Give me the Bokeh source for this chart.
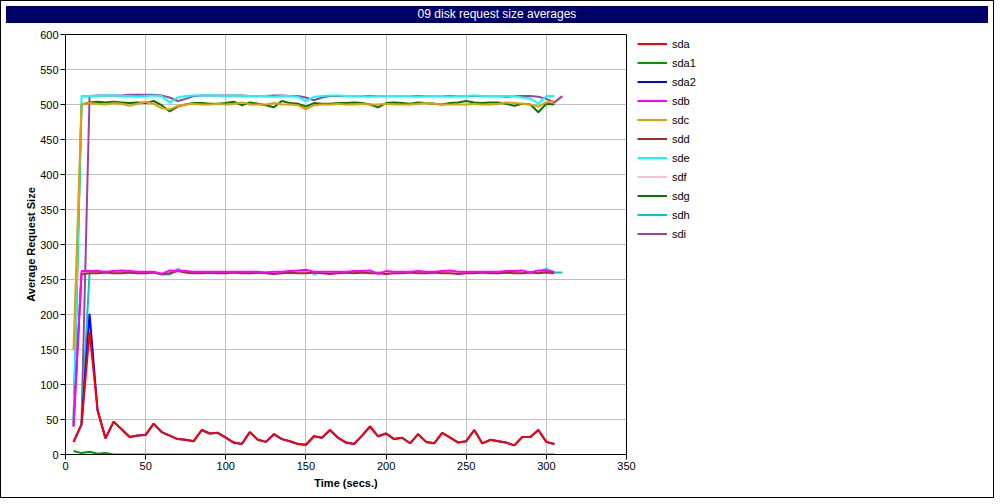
from bokeh.plotting import figure
from bokeh.models import Legend, LegendItem, Div, Range1d, FixedTicker
from bokeh.layouts import column, row
from bokeh.embed import file_html
from bokeh.resources import INLINE

title_text = "09 disk request size averages"
x_label = "Time (secs.)"
y_label = "Average Request Size"
x_ticks = [0, 50, 100, 150, 200, 250, 300, 350]
y_ticks = [0, 50, 100, 150, 200, 250, 300, 350, 400, 450, 500, 550, 600]

# sample times (seconds)
t_a = [5, 10, 15, 20, 25, 30, 35, 40, 45, 50, 55, 60, 65, 70, 75, 80, 85, 90, 95, 100,
       105, 110, 115, 120, 125, 130, 135, 140, 145, 150, 155, 160, 165, 170, 175, 180,
       185, 190, 195, 200, 205, 210, 215, 220, 225, 230, 235, 240, 245, 250, 255, 260,
       265, 270, 275, 280, 285, 290, 295, 300, 305]
t_b = [10, 15, 20, 25, 30, 35, 40, 45, 50, 55, 60, 65, 70, 75, 80, 85, 90, 95, 100,
       105, 110, 115, 120, 125, 130, 135, 140, 145, 150, 155, 160, 165, 170, 175, 180,
       185, 190, 195, 200, 205, 210, 215, 220, 225, 230, 235, 240, 245, 250, 255, 260,
       265, 270, 275, 280, 285, 290, 295, 300, 305, 310]

sda = [18, 43, 175, 63, 23, 47, 36, 25, 27, 28, 44, 32, 27, 22, 21, 19, 35, 30, 31, 24,
       17, 15, 32, 21, 18, 29, 22, 19, 15, 14, 26, 24, 35, 24, 17, 15, 27, 40, 26, 30,
       22, 24, 16, 29, 18, 16, 31, 24, 17, 19, 35, 16, 21, 19, 17, 13, 25, 25, 35, 18, 15]
sda1 = [5, 2, 4, 1, 2, 0, 0, 0, 0, 0, 0, 0, 0, 0, 0, 0, 0, 0, 0, 0,
        0, 0, 0, 0, 0, 0, 0, 0, 0, 0, 0, 0, 0, 0, 0, 0, 0, 0, 0, 0,
        0, 0, 0, 0, 0, 0, 0, 0, 0, 0, 0, 0, 0, 0, 0, 0, 0, 0, 0, 0, 0]
sda2 = [18, 43, 201, 63, 23, 47, 36, 25, 27, 28, 44, 32, 27, 22, 21, 19, 35, 30, 31, 24,
        17, 15, 32, 21, 18, 29, 22, 19, 15, 14, 26, 24, 35, 24, 17, 15, 27, 40, 26, 30,
        22, 24, 16, 29, 18, 16, 31, 24, 17, 19, 35, 16, 21, 19, 17, 13, 25, 25, 35, 18, 15]
sdb = [40, 262, 262, 262, 261, 262, 263, 262, 261, 261, 261, 258, 263, 262, 262, 261,
       261, 261, 261, 261, 261, 261, 261, 261, 260, 261, 261, 262, 263, 264, 261, 261,
       261, 261, 261, 262, 262, 263, 258, 262, 261, 261, 261, 262, 261, 261, 262, 263,
       261, 261, 261, 261, 261, 261, 262, 262, 263, 260, 263, 262, 261]
sdc = [150, 500, 502, 501, 500, 502, 501, 498, 501, 504, 501, 495, 493, 498, 500, 501,
       500, 500, 501, 500, 501, 503, 500, 500, 500, 502, 500, 500, 499, 493, 499, 500,
       500, 501, 500, 500, 501, 500, 500, 501, 500, 500, 500, 501, 502, 501, 500, 500,
       500, 500, 501, 500, 500, 501, 503, 502, 501, 500, 497, 503, 505]
sdd = [40, 258, 259, 259, 260, 259, 259, 260, 259, 259,
       260, 258, 259, 262, 260, 259, 259, 260, 259, 259,
       260, 259, 259, 260, 259, 258, 259, 260, 259, 259,
       260, 259, 258, 259, 260, 259, 260, 259, 259, 258,
       259, 259, 260, 259, 259, 260, 259, 259, 258, 259,
       259, 260, 259, 259, 260, 259, 259, 260, 259, 260, 259]
sde = [45, 512, 512, 512, 513, 513, 512, 512, 511, 512, 513, 512, 503, 510, 512, 513,
       513, 513, 513, 512, 513, 512, 512, 512, 512, 511, 512, 512, 511, 505, 511, 512,
       513, 513, 512, 512, 512, 511, 512, 512, 512, 512, 512, 511, 512, 512, 512, 511,
       512, 512, 513, 512, 512, 512, 512, 512, 510, 509, 501, 512, 512]
sdf = [42, 260, 261, 260, 260, 261, 260, 260, 261, 260,
       260, 259, 261, 262, 261, 260, 260, 261, 260, 260,
       261, 260, 260, 261, 260, 260, 260, 261, 260, 261,
       260, 260, 261, 260, 260, 261, 261, 261, 259, 260,
       260, 261, 260, 260, 261, 260, 260, 261, 260, 260,
       261, 260, 260, 261, 260, 260, 261, 260, 261, 261, 260]
sdg = [45, 500, 503, 504, 503, 504, 503, 502, 503, 502, 505, 499, 490, 497, 500, 502,
       502, 501, 501, 502, 504, 499, 503, 501, 499, 496, 505, 502, 501, 497, 502, 501,
       501, 502, 502, 503, 502, 500, 496, 502, 503, 502, 501, 503, 502, 501, 500, 502,
       503, 505, 503, 502, 503, 503, 501, 498, 501, 500, 489, 501, 500]
sdh = [45, 260, 260, 261, 260, 260, 260, 259, 260, 260,
       257, 257, 265, 260, 260, 260, 259, 260, 260, 260,
       260, 259, 260, 260, 260, 260, 259, 260, 262, 258,
       260, 260, 260, 259, 260, 260, 260, 260, 260, 260,
       260, 260, 260, 259, 260, 260, 262, 260, 260, 260,
       260, 260, 259, 260, 260, 261, 260, 262, 265, 260, 260]
sdi = [45, 512, 513, 513, 513, 513, 514, 514, 514, 514, 513, 510, 505, 508, 512, 513,
       513, 513, 513, 513, 513, 512, 512, 512, 513, 513, 512, 512, 510, 506, 510, 512,
       512, 512, 512, 512, 512, 512, 512, 512, 512, 512, 512, 512, 512, 512, 512, 512,
       512, 512, 512, 512, 512, 511, 512, 512, 512, 511, 508, 503, 512]

names = ["sda", "sda1", "sda2", "sdb", "sdc", "sdd", "sde", "sdf", "sdg", "sdh", "sdi"]
xs = [t_a, t_a, t_a, t_a, t_a, t_a, t_a, t_a, t_a, t_b, t_b]
ys = [sda, sda1, sda2, sdb, sdc, sdd, sde, sdf, sdg, sdh, sdi]
colors = ["#ff0000", "#009a00", "#0000ff", "#ff00ff", "#e89c00", "#a52a2a",
          "#00ffff", "#ffc0cb", "#007800", "#00c8c8", "#a040a0"]

FONT = "Liberation Sans"
FIG_H = 469
P_W = 635
TOTAL_W = 982

p = figure(width=P_W, height=FIG_H, output_backend="svg", toolbar_location=None,
           x_range=Range1d(0, 350), y_range=Range1d(0, 600),
           min_border_left=64, min_border_right=10, min_border_top=6, min_border_bottom=43,
           background_fill_color="white", border_fill_color="white")
p.outline_line_color = "black"
p.outline_line_width = 1
p.outline_line_alpha = 1

p.xaxis.ticker = FixedTicker(ticks=x_ticks)
p.yaxis.ticker = FixedTicker(ticks=y_ticks)
for ax in (p.xaxis[0], p.yaxis[0]):
    ax.axis_line_color = "black"
    ax.major_tick_line_color = "black"
    ax.major_tick_out = 5
    ax.major_tick_in = 0
    ax.minor_tick_line_color = None
    ax.major_label_text_font = FONT
    ax.major_label_text_font_size = "11px"
    ax.major_label_text_color = "black"
    ax.axis_label_text_font = FONT
    ax.axis_label_text_font_size = "11px"
    ax.axis_label_text_font_style = "bold"
    ax.axis_label_text_color = "black"
    ax.major_label_standoff = 2
p.xaxis.axis_label = x_label
p.yaxis.axis_label = y_label
p.xaxis.axis_label_standoff = 4
p.yaxis.axis_label_standoff = 0

p.grid.grid_line_color = "#c0c0c0"
p.grid.grid_line_width = 1

for i in reversed(range(len(names))):
    p.line(xs[i], ys[i], line_color=colors[i], line_width=2)

# legend panel: a companion figure whose key entries share the series styles
lf = figure(width=TOTAL_W - P_W, height=FIG_H, output_backend="svg", toolbar_location=None,
            x_range=Range1d(0, 1), y_range=Range1d(0, 1),
            min_border_left=0, min_border_right=0, min_border_top=0, min_border_bottom=0,
            background_fill_color="white", border_fill_color="white")
lf.axis.visible = False
lf.grid.visible = False
lf.outline_line_color = None
items = []
for i, n in enumerate(names):
    # key-only renderer, placed outside the visible range so only its legend swatch shows
    r = lf.line([5, 6], [5, 6], line_color=colors[i], line_width=2)
    items.append(LegendItem(label=n, renderers=[r]))

legend = Legend(items=items, location=(1, 212), orientation="vertical")
legend.padding = 0
legend.margin = 0
legend.spacing = 2
legend.glyph_width = 30
legend.glyph_height = 17
legend.label_height = 17
legend.label_standoff = 5
legend.label_text_font = FONT
legend.label_text_font_size = "11px"
legend.label_text_color = "black"
legend.background_fill_alpha = 0
legend.border_line_color = None
lf.add_layout(legend, "center")

title = Div(text=title_text, width=TOTAL_W, height=17,
            styles={"background-color": "#000066", "color": "white", "text-align": "center",
                    "font-family": FONT, "font-size": "12px", "line-height": "17px"})

layout = column(title, row(p, lf, spacing=0), spacing=0,
                styles={"border": "1px solid black"})

open("out.html", "w").write(file_html(layout, INLINE))
